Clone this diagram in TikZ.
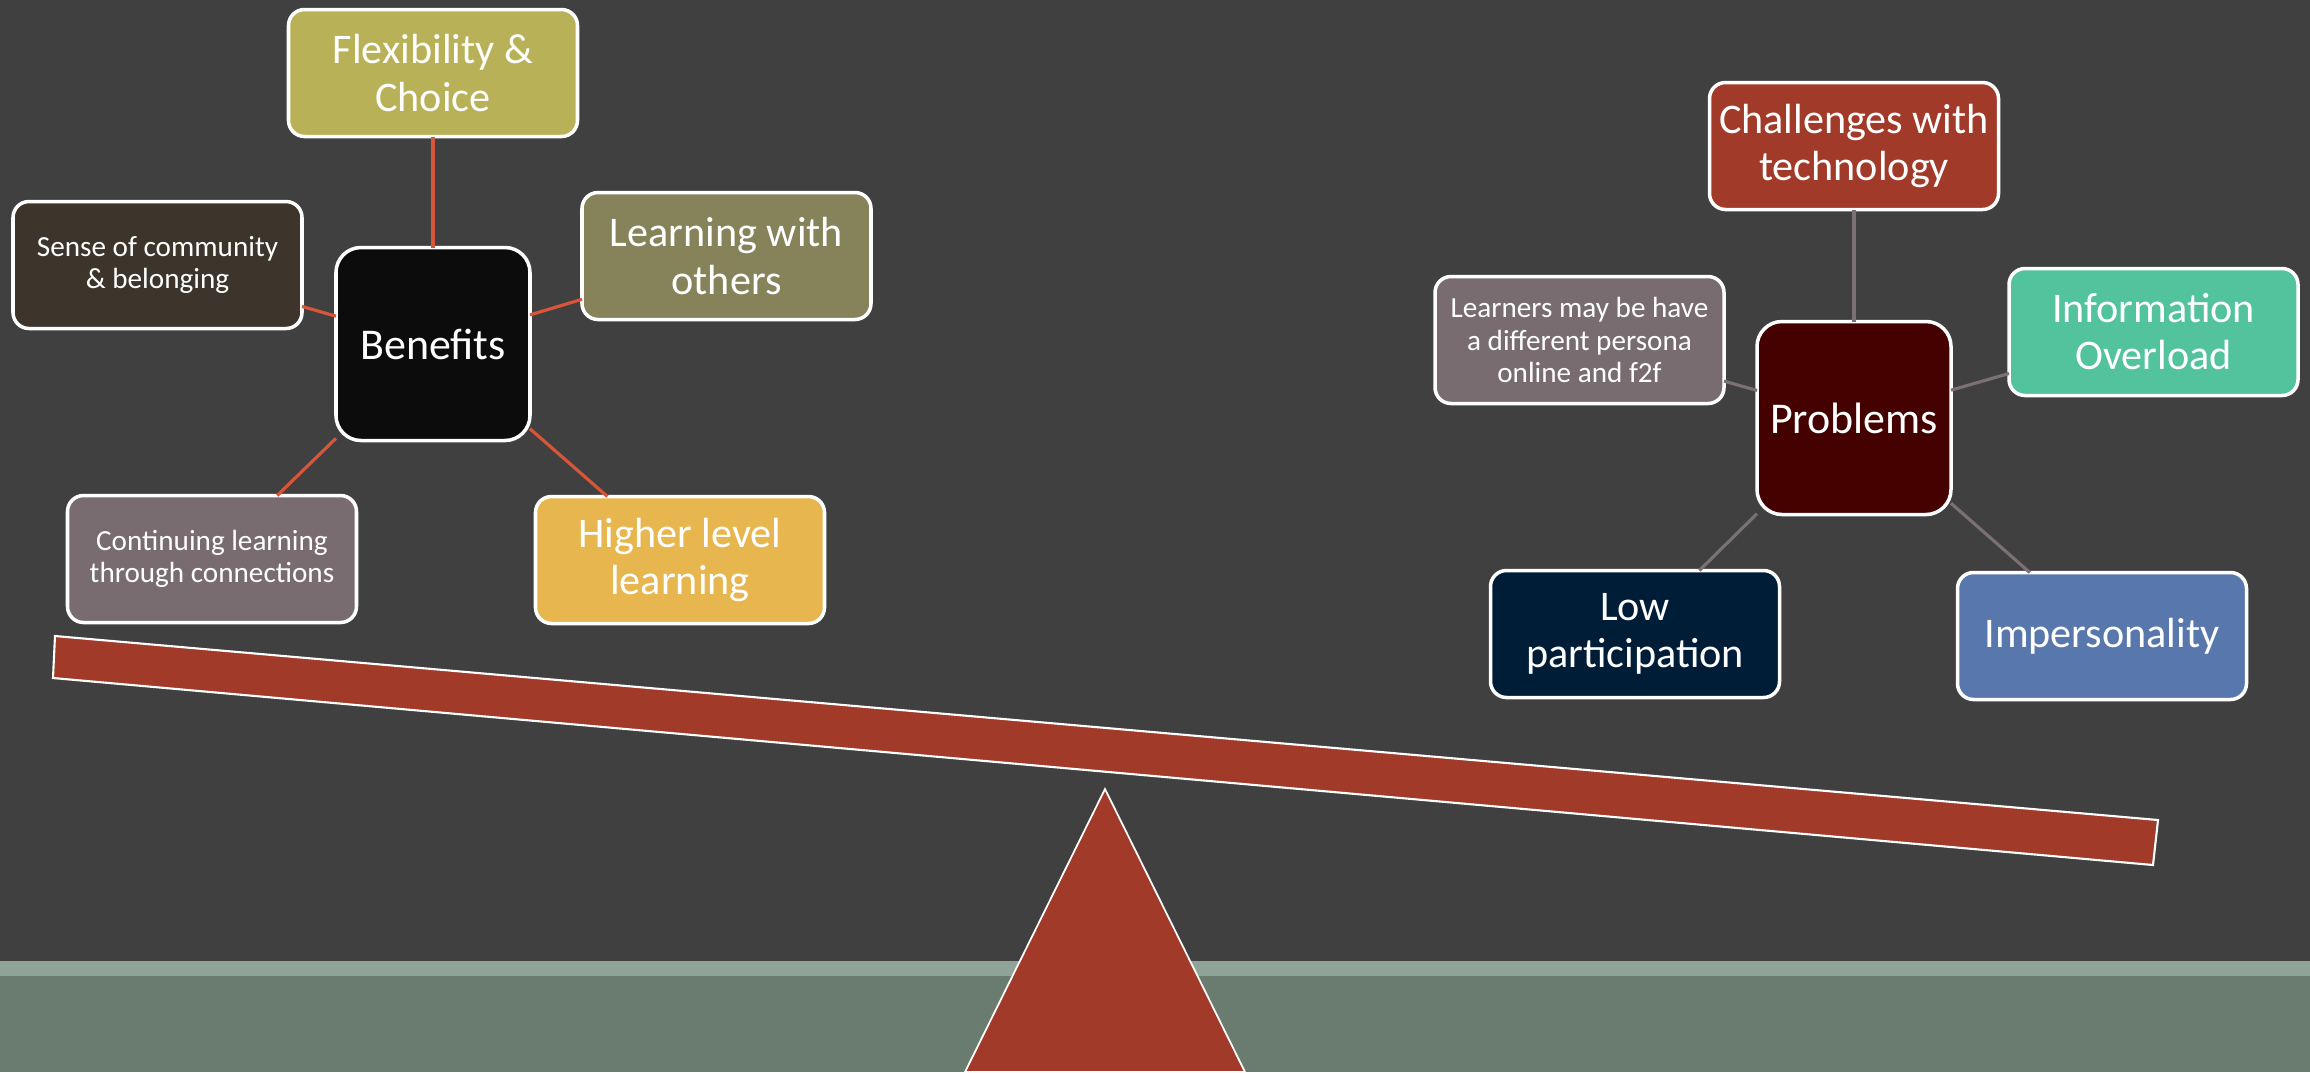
\documentclass[tikz,border=0pt]{standalone}
\usepackage{fontspec}
\setmainfont{Carlito}
\usetikzlibrary{positioning}
\definecolor{slate}{HTML}{404040}
\definecolor{band}{HTML}{8FA398}
\definecolor{ground}{HTML}{6A7B70}
\definecolor{rust}{HTML}{A13A28}
\definecolor{plusline}{HTML}{D9553A}
\definecolor{minusline}{HTML}{7B7073}
\definecolor{benhub}{HTML}{0C0C0C}
\definecolor{flexc}{HTML}{B8B157}
\definecolor{sensec}{HTML}{3D352B}
\definecolor{withc}{HTML}{86835A}
\definecolor{contc}{HTML}{786C70}
\definecolor{highc}{HTML}{E8B64E}
\definecolor{probhub}{HTML}{450000}
\definecolor{techc}{HTML}{A13A28}
\definecolor{persc}{HTML}{786C70}
\definecolor{infoc}{HTML}{52C39C}
\definecolor{lowc}{HTML}{001D38}
\definecolor{impc}{HTML}{5877AD}
\newcommand{\bigtxt}{\fontsize{12}{13.4}\selectfont}
\newcommand{\hubtxt}{\fontsize{12.5}{14}\selectfont}
\newcommand{\smalltxt}{\fontsize{8.3}{9.2}\selectfont}

\begin{document}
\begin{tikzpicture}[x=0.1mm, y=-0.1mm,
      hub/.style={draw=white, line width=1pt, rounded corners=2.5mm, minimum width=1.94cm, minimum height=1.93cm, inner sep=1pt, outer sep=0pt, text=white, font=\hubtxt},
      leaf/.style={draw=white, line width=1pt, rounded corners=1.6mm, minimum width=2.89cm, minimum height=1.27cm, inner sep=1pt, outer sep=0pt, align=center, text=white, font=\bigtxt},
      plus/.style={draw=plusline, line width=0.9pt},
      minus/.style={draw=minusline, line width=0.9pt}]
    \useasboundingbox (0,0) rectangle (2310,1072);
    \fill[slate] (0,0) rectangle (2310,1072);
    % ground
    \fill[band] (0,961) rectangle (2310,976);
    \fill[ground] (0,976) rectangle (2310,1072);
    % seesaw
    \filldraw[fill=rust, draw=white, line width=0.6pt] (55,636) -- (2158,820) -- (2153,865) -- (53,678) -- cycle;
    \filldraw[fill=rust, draw=white, line width=0.5pt] (1105,789) -- (1245,1072) -- (965,1072) -- cycle;
    % benefits side
    \node[hub, fill=benhub] (ben) at (433,344) {Benefits};
    \node[leaf, fill=flexc, above=1.11cm of ben] (flex) {Flexibility \&\\Choice};
    \node[leaf, fill=sensec, font=\smalltxt, above left=0.79cm and 0.34cm of ben.west, anchor=east] (sense) {Sense of community\\\& belonging};
    \node[leaf, fill=withc, above right=0.88cm and 0.52cm of ben.east, anchor=west] (with) {Learning with\\others};
    \node[leaf, fill=contc, font=\smalltxt, below left=0.55cm and 2.21cm of ben.south, anchor=north] (cont) {Continuing learning\\through connections};
    \node[leaf, fill=highc, below right=0.56cm and 2.47cm of ben.south, anchor=north] (high) {Higher level\\learning};
    \draw[plus] (ben) -- (flex);
    \draw[plus] (ben) -- (sense);
    \draw[plus] (ben) -- (with);
    \draw[plus] (ben) -- (cont);
    \draw[plus] (ben) -- (high);
    % problems side
    \node[hub, fill=probhub] (prob) at (1854,418) {Problems};
    \node[leaf, fill=techc, above=1.12cm of prob] (tech) {Challenges with\\technology};
    \node[leaf, fill=persc, font=\smalltxt, above left=0.78cm and 0.33cm of prob.west, anchor=east] (pers) {Learners may be have\\a different persona\\online and f2f};
    \node[leaf, fill=infoc, above right=0.86cm and 0.58cm of prob.east, anchor=west] (info) {Information\\Overload};
    \node[leaf, fill=lowc, below left=0.56cm and 2.19cm of prob.south, anchor=north] (low) {Low\\participation};
    \node[leaf, fill=impc, below right=0.58cm and 2.48cm of prob.south, anchor=north] (imp) {Impersonality};
    \draw[minus] (prob) -- (tech);
    \draw[minus] (prob) -- (pers);
    \draw[minus] (prob) -- (info);
    \draw[minus] (prob) -- (low);
    \draw[minus] (prob) -- (imp);
  \end{tikzpicture}
\end{document}
